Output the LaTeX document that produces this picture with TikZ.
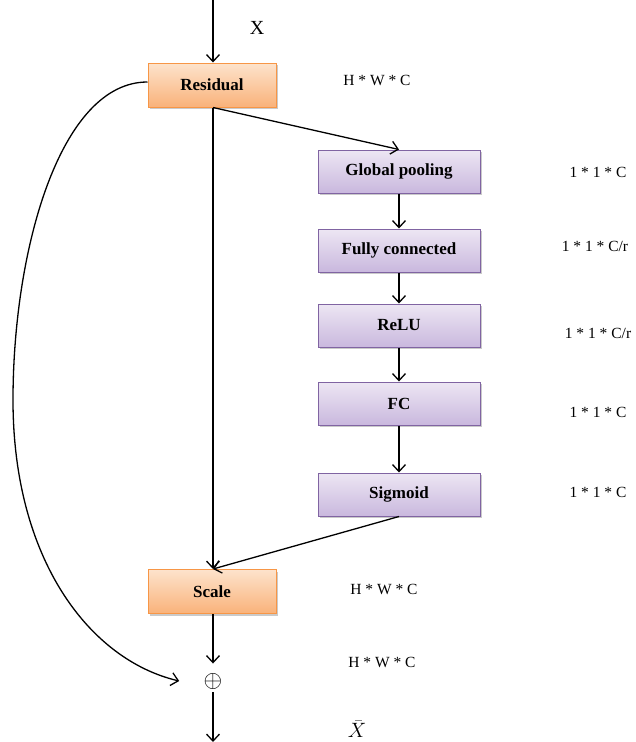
\documentclass[tikz,border=0pt]{standalone}
\usepackage{fontspec}
\setmainfont{Liberation Serif}
\usetikzlibrary{arrows.meta,shadows}
\definecolor{orangeline}{HTML}{F79646}
\definecolor{orangetop}{HTML}{FDE3CC}
\definecolor{orangebot}{HTML}{F9B27A}
\definecolor{purpleline}{HTML}{8064A2}
\definecolor{purpletop}{HTML}{EDE6F3}
\definecolor{purplebot}{HTML}{C9B8DE}
\tikzset{
  box/.style={rectangle, line width=1pt, font=\fontsize{17}{20}\selectfont\bfseries,
    drop shadow={shadow xshift=1.5pt, shadow yshift=-2pt, opacity=0.35, fill=black!60}},
  orangebox/.style={box, draw=orangeline, top color=orangetop, bottom color=orangebot,
    minimum width=128pt, minimum height=44pt},
  purplebox/.style={box, draw=purpleline, top color=purpletop, bottom color=purplebot,
    minimum width=162pt, minimum height=43pt},
  dimlabel/.style={font=\fontsize{15.5}{18}\selectfont},
  biglabel/.style={font=\fontsize{20}{24}\selectfont},
  flow/.style={line width=1.3pt, -{Straight Barb[length=7pt,width=13pt,line width=1.3pt]}},
}
\begin{document}
\begin{tikzpicture}[x=1pt,y=-1pt]
\useasboundingbox (0,0) rectangle (636,742);

% blocks
\node[orangebox] (res) at (212,85) {Residual};
\node[purplebox] (gp) at (399,171.5) {Global pooling};
\node[purplebox] (fc1) at (399,250.5) {Fully connected};
\node[purplebox] (relu) at (399,325.5) {ReLU};
\node[purplebox] (fc2) at (399,403.5) {FC};
\node[purplebox] (sig) at (399,494.5) {Sigmoid};
\node[orangebox] (scale) at (212,591.5) {Scale};
\node[inner sep=0pt, scale=2.4] (plus) at (213,681) {$\oplus$};

% free ends of the input and output arrows
\coordinate (in) at (213,0);
\coordinate (out) at (213,742);

% labels
\node[biglabel] (xin) at (257,28) {X};
\node[biglabel] (xout) at (357,729) {$\bar{X}$};
\node[dimlabel] (d0) at (377,80) {H * W * C};
\node[dimlabel] (d1) at (598,172) {1 * 1 * C};
\node[dimlabel] (d2) at (595,246) {1 * 1 * C/r};
\node[dimlabel] (d3) at (598,333) {1 * 1 * C/r};
\node[dimlabel] (d4) at (598,412) {1 * 1 * C};
\node[dimlabel] (d5) at (598,492) {1 * 1 * C};
\node[dimlabel] (d6) at (384,589) {H * W * C};
\node[dimlabel] (d7) at (382,662) {H * W * C};

% connectors
\draw[flow] (in) -- (res.north -| in);
\draw[flow] (res.south -| in) -- (scale.north -| in);
\draw[flow] (res.south -| in) -- (gp.north);
\draw[flow] (gp) -- (fc1);
\draw[flow] (fc1) -- (relu);
\draw[flow] (relu) -- (fc2);
\draw[flow] (fc2) -- (sig);
\draw[flow] (sig.south) -- (scale.north -| in);
\draw[flow] (scale.south -| in) -- ([yshift=9pt]plus.north);
\draw[flow] ([yshift=-3pt]plus.south) -- (out);
% skip connection around the whole block
\draw[flow] ([yshift=3pt]res.west) .. controls (60,82) and (13,250) .. (13,400)
  .. controls (13,560) and (90,660) .. ([xshift=-24pt]plus.west);
\end{tikzpicture}
\end{document}
